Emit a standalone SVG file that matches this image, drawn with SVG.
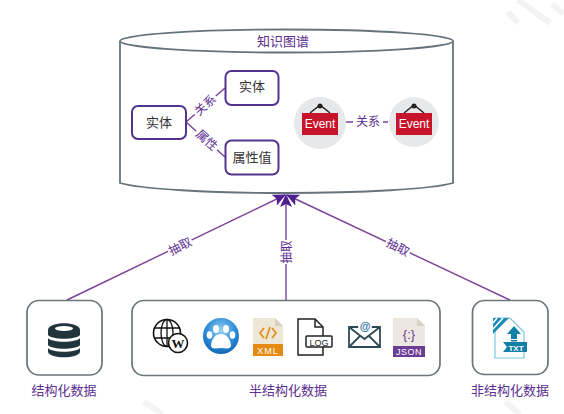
<svg xmlns="http://www.w3.org/2000/svg" width="564" height="414" viewBox="0 0 564 414">
<defs>
<style>
text{font-family:"Noto Sans CJK SC","Liberation Sans",sans-serif;text-anchor:middle}
.p{fill:#5b2d91;font-size:12px}
.t{fill:#5b2d91;font-size:13px}
.k{fill:#333;font-size:13px}
.n{fill:#fff;stroke:#53318f;stroke-width:2}
.b{fill:#fff;stroke:#6b7478;stroke-width:1.7}
.c{fill:none;stroke:#7b3f98;stroke-width:1.400}
.w{fill:#fff;stroke:none}
.e{fill:#fff;font-size:12px;font-family:"Liberation Sans",sans-serif}
.wm{fill:none;stroke:#f3f3f3;stroke-width:6}
</style>
<radialGradient id="bd" cx="0.5" cy="0.35" r="0.7"><stop offset="0" stop-color="#9bd2f2"/><stop offset="0.6" stop-color="#2a8ad6"/><stop offset="1" stop-color="#0d5fae"/></radialGradient>
<marker id="a" markerWidth="13" markerHeight="12" refX="12" refY="6" orient="auto" markerUnits="userSpaceOnUse"><path d="M0 0L13 6L0 12L3 6Z" fill="#4f1f8f"/></marker>
</defs>
<rect width="564" height="414" fill="#fff"/>
<g id="watermark">
<path class="wm" d="M518 0L550 23M552 4L564 14M508 12L518 23M144 402L162 414M505 402L520 414"/>
</g>
<g id="kg">
<path d="M120 41V183C140 189 210 193 286 193S432 189 453 183V41" fill="#fff" stroke="#66737a" stroke-width="1.8"/>
<ellipse cx="286.500" cy="41" rx="166.500" ry="11.500" fill="#fff" stroke="#66737a" stroke-width="1.8"/>
<text class="t" x="283" y="46">知识图谱</text>
</g>
<g id="connectors">
<path class="c" d="M186 122L225 88"/>
<path class="c" d="M186 122L225 157"/>
<path class="c" d="M346 122H388"/>
<path class="c" marker-end="url(#a)" d="M67 300L285 195"/>
<path class="c" marker-end="url(#a)" d="M286 300V195"/>
<path class="c" marker-end="url(#a)" d="M510 300L287 195"/>
</g>
<g id="edge-labels">
<g transform="translate(205 105) rotate(-42)"><rect class="w" x="-14" y="-7" width="28" height="14"/><text class="p" y="4.500">关系</text></g>
<g transform="translate(207 140) rotate(42)"><rect class="w" x="-14" y="-7" width="28" height="14"/><text class="p" y="4.500">属性</text></g>
<g><rect class="w" x="353" y="113" width="30" height="16"/><text class="p" x="368" y="126">关系</text></g>
<g transform="translate(180 246) rotate(-27)"><rect class="w" x="-13" y="-7" width="26" height="14"/><text class="p" y="4.500">抽取</text></g>
<g transform="translate(286 252) rotate(-90)"><rect class="w" x="-12" y="-7" width="24" height="14"/><text class="p" y="4.500" textLength="23" lengthAdjust="spacingAndGlyphs">抽取</text></g>
<g transform="translate(398 247) rotate(27)"><rect class="w" x="-13" y="-7" width="26" height="14"/><text class="p" y="4.500">抽取</text></g>
</g>
<g id="entity-1"><rect class="n" x="132" y="106" width="54" height="33" rx="6"/><text class="k" x="159" y="127">实体</text></g>
<g id="entity-2"><rect class="n" x="225.500" y="71" width="53" height="34" rx="6"/><text class="k" x="252" y="91">实体</text></g>
<g id="attribute"><rect class="n" x="225.500" y="140.500" width="53" height="34" rx="6"/><text class="k" x="252" y="162">属性值</text></g>
<g id="event-1">
<circle cx="320" cy="123" r="26" fill="#e7e8ea"/>
<path d="M310 113L320 105L330 113" fill="none" stroke="#222" stroke-width="1.500"/><circle cx="320" cy="106" r="2.500" fill="#222"/>
<rect x="302" y="113" width="36" height="22" fill="#c8142b"/><text class="e" x="320" y="128">Event</text>
</g>
<g id="event-2">
<circle cx="414" cy="122" r="25" fill="#e7e8ea"/>
<path d="M404 113L414 105L424 113" fill="none" stroke="#222" stroke-width="1.500"/><circle cx="414" cy="106" r="2.500" fill="#222"/>
<rect x="396" y="113" width="36" height="22" fill="#c8142b"/><text class="e" x="414" y="128">Event</text>
</g>
<g id="structured">
<rect class="b" x="27" y="300.500" width="75" height="74.500" rx="12"/>
<path d="M48 330C48 321 80 321 80 330V335C76 340 52 340 48 335Z" fill="#22353c"/>
<ellipse cx="64" cy="328.500" rx="9" ry="2.500" fill="#fff"/>
<path d="M48 338C52 343 76 343 80 338V345C76 350 52 350 48 345Z" fill="#22353c"/>
<path d="M48 348C52 353 76 353 80 348V352C78 359 50 359 48 352Z" fill="#22353c"/>
<text class="t" x="64" y="395">结构化数据</text>
</g>
<g id="semi-structured">
<rect class="b" x="132" y="300.500" width="308" height="75" rx="12"/>
<circle cx="167" cy="333" r="13.500" fill="none" stroke="#111" stroke-width="1.600"/>
<ellipse cx="167" cy="333" rx="6" ry="13.500" fill="none" stroke="#111" stroke-width="1.300"/>
<path d="M154 328H180M154 338H180M167 320V346" stroke="#111" stroke-width="1.300" fill="none"/>
<circle cx="178" cy="343" r="9.500" fill="#fff" stroke="#111" stroke-width="1.600"/>
<text x="178" y="348" style="font:bold 13px 'Liberation Serif',serif" fill="#111">W</text>
<circle cx="221" cy="336" r="18" fill="url(#bd)"/>
<path d="M211 345C212 337 217 334 221 334S230 337 231 345C231 350 226 348 221 348S211 350 211 345Z" fill="#fff"/>
<ellipse cx="209.500" cy="335" rx="2.800" ry="3.800" fill="#fff"/><ellipse cx="216" cy="329" rx="3" ry="4" fill="#fff"/><ellipse cx="226" cy="329" rx="3" ry="4" fill="#fff"/><ellipse cx="232.500" cy="335" rx="2.800" ry="3.800" fill="#fff"/>
<path d="M253 318H275L283 326V356H253Z" fill="#ece7d6"/><path d="M275 318L283 326H275Z" fill="#d8d2bd"/>
<rect x="253" y="344" width="30" height="12" fill="#e58a10"/>
<path d="M264 328L260 333L264 338M272 328L276 333L272 338M270 327L266 339" fill="none" stroke="#e58a10" stroke-width="1.700"/>
<text x="268" y="354" style="font:9px 'Liberation Sans',sans-serif;letter-spacing:1px" fill="#fff">XML</text>
<path d="M298 336V319H315L323 327V336M298 347V355H323V347" fill="#fff" stroke="#222" stroke-width="1.500"/><path d="M298 336V347" stroke="#222" stroke-width="1.500"/><path d="M315 319V327H323" fill="none" stroke="#222" stroke-width="1.500"/>
<rect x="306" y="336" width="26" height="11" rx="1" fill="#fff" stroke="#222" stroke-width="1.500"/>
<text x="319" y="345.500" style="font:9px 'Liberation Sans',sans-serif" fill="#222">LOG</text>
<path d="M349 327H380V347H349ZM349 327L364.500 339L380 327M349 347L360 336M380 347L369 336" fill="none" stroke="#2f4a57" stroke-width="1.800"/>
<circle cx="365" cy="326" r="7" fill="#fff"/><text x="365" y="330" style="font:bold 11px 'Liberation Sans',sans-serif" fill="#1f6f9f">@</text>
<path d="M393 318H417L425 326V357H393Z" fill="#ece7e0"/><path d="M417 318L425 326H417Z" fill="#d8d2c8"/>
<rect x="393" y="346" width="32" height="11" fill="#6b3d97"/>
<text x="409" y="339" style="font:13px 'Liberation Sans',sans-serif" fill="#6b3d97">{:}</text>
<text x="409" y="355" style="font:9px 'Liberation Sans',sans-serif;letter-spacing:.5px" fill="#fff">JSON</text>
<text class="t" x="288" y="395">半结构化数据</text>
</g>
<g id="unstructured">
<rect class="b" x="472.500" y="300.500" width="75.500" height="74" rx="12"/>
<path d="M495 318H510L524 332V358H495Z" fill="#fff" stroke="#7cc5de" stroke-width="1.200"/>
<path d="M493 318H509L493 334Z" fill="#1d8db5"/>
<path d="M497 318L493 323M503 318L493 329" stroke="#fff" stroke-width="1.500" fill="none"/>
<path d="M514 326L521 334H517V339H511V334H507Z" fill="#127fa6"/>
<rect x="511" y="340" width="6" height="1.500" fill="#127fa6"/>
<path d="M503 342H527V352H503L507 347Z" fill="#127fa6"/>
<text x="516" y="351" style="font:bold 8px 'Liberation Sans',sans-serif" fill="#fff">TXT</text>
<text class="t" x="510" y="395">非结构化数据</text>
</g>
</svg>
